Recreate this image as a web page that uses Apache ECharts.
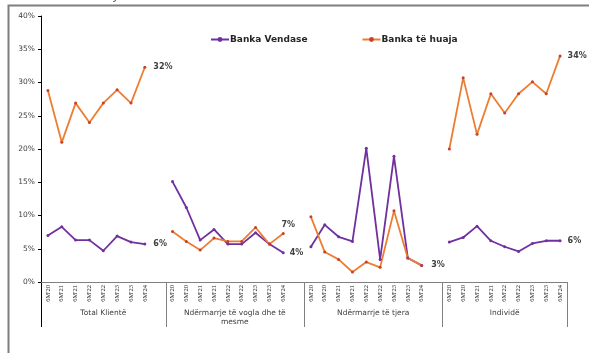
<!DOCTYPE html>
<html>
<head>
<meta charset="utf-8">
<script src="https://cdn.jsdelivr.net/npm/echarts@6/dist/echarts.min.js"></script>
<style>
  html, body { margin: 0; padding: 0; background: #fff; }
  #main { width: 589px; height: 353px; }
</style>
</head>
<body>
<div id="main"></div>
<script>
// categories
var groupNames = ["Total Klientë", "Ndërmarrje të vogla dhe të\nmesme", "Ndërmarrje të tjera", "Individë"];
var periodsTotal = ["6M'20", "6M'21", "6M'21", "6M'22", "6M'22", "6M'23", "6M'23", "6M'24"];
var periodsSegment = ["6M'20", "6M'20", "6M'21", "6M'21", "6M'22", "6M'22", "6M'23", "6M'23", "6M'24"];

// Banka Vendase (%)
var vendaseTotal = [7.0, 8.3, 6.3, 6.3, 4.7, 6.9, 6.0, 5.7];
var vendaseSme = [15.1, 11.2, 6.3, 7.9, 5.7, 5.7, 7.4, 5.7, 4.4];
var vendaseOther = [5.3, 8.6, 6.8, 6.1, 20.1, 3.4, 18.9, 3.6, 2.5];
var vendaseIndiv = [6.0, 6.7, 8.4, 6.2, 5.3, 4.6, 5.8, 6.2, 6.2];

// Banka të huaja (%)
var huajaTotal = [28.8, 21.0, 26.9, 24.0, 26.9, 28.9, 26.9, 32.3];
var huajaSme = [7.6, 6.1, 4.8, 6.6, 6.1, 6.1, 8.2, 5.7, 7.3];
var huajaOther = [9.8, 4.5, 3.4, 1.5, 3.0, 2.2, 10.7, 3.6, 2.5];
var huajaIndiv = [20.0, 30.7, 22.2, 28.3, 25.4, 28.3, 30.1, 28.3, 34.0];

// y axis ticks
var yMin = 0, yMax = 40, yStep = 5;

var groups = [
  { periods: periodsTotal, vendase: vendaseTotal, huaja: huajaTotal },
  { periods: periodsSegment, vendase: vendaseSme, huaja: huajaSme },
  { periods: periodsSegment, vendase: vendaseOther, huaja: huajaOther },
  { periods: periodsSegment, vendase: vendaseIndiv, huaja: huajaIndiv }
];

// end-of-group label placement (per group: [vendase, huaja])
var endLabelPos = [
  [{ position: "right", distance: 7 }, { position: "right", distance: 7 }],
  [{ position: "right", distance: 5 }, { position: "top", distance: 3, offset: [5, 0] }],
  [{ position: "right", distance: 8 }, null],
  [{ position: "right", distance: 6 }, { position: "right", distance: 6 }]
];

var fontFamily = "DejaVu Sans";
var purple = "#7030a0";
var orange = "#ed7d31";

var categories = [], labels = [], vendData = [], huajaData = [], groupRanges = [];

function point(v, isLast, pos) {
  if (!isLast || !pos) return v;
  return {
    value: v,
    label: Object.assign({
      show: true,
      formatter: Math.round(v) + "%",
      fontFamily: fontFamily,
      fontSize: 8,
      fontWeight: "bold",
      color: "#404040"
    }, pos)
  };
}

groups.forEach(function (g, gi) {
  var start = categories.length;
  var last = g.periods.length - 1;
  g.periods.forEach(function (p, i) {
    categories.push(gi + "-" + i);
    labels.push(p);
    vendData.push(point(g.vendase[i], i === last, endLabelPos[gi][0]));
    huajaData.push(point(g.huaja[i], i === last, endLabelPos[gi][1]));
  });
  if (gi < groups.length - 1) {
    categories.push(gi + "-gap");
    labels.push("");
    vendData.push(null);
    huajaData.push(null);
  }
  groupRanges.push([start, categories.length - 1]);
});

var chart = echarts.init(document.getElementById("main"));

chart.setOption({
  animation: false,
  backgroundColor: "#fff",
  legend: {
    left: 205,
    top: 30,
    itemWidth: 18,
    itemHeight: 6,
    itemGap: 54,
    textStyle: { fontFamily: fontFamily, fontSize: 9, fontWeight: "bold", color: "#262626", padding: [0, 0, 0, -4] },
    data: ["Banka Vendase", "Banka të huaja"]
  },
  grid: {
    left: 41,
    right: 22,
    top: 16,
    bottom: 71,
    containLabel: false,
    outerBoundsMode: "none"
  },
  xAxis: {
    type: "category",
    data: categories,
    boundaryGap: true,
    axisLine: { lineStyle: { color: "#808080", width: 1 } },
    axisTick: { show: false },
    axisLabel: {
      interval: 0,
      rotate: 90,
      margin: 3,
      fontFamily: "Liberation Sans Narrow",
      fontSize: 6.5,
      color: "#262626",
      formatter: function (v, i) { return labels[i]; }
    },
    splitLine: { show: false }
  },
  yAxis: {
    type: "value",
    min: yMin,
    max: yMax,
    interval: yStep,
    axisLine: { show: true, lineStyle: { color: "#000", width: 1 } },
    axisTick: { show: true, length: 3, lineStyle: { color: "#000" } },
    axisLabel: {
      formatter: "{value}%",
      fontFamily: fontFamily,
      fontSize: 7.5,
      color: "#404040",
      margin: 6
    },
    splitLine: { show: false }
  },
  series: [
    {
      name: "Banka Vendase",
      type: "line",
      data: vendData,
      symbol: "circle",
      symbolSize: 3,
      lineStyle: { color: purple, width: 1.8 },
      itemStyle: { color: purple },
      connectNulls: false
    },
    {
      name: "Banka të huaja",
      type: "line",
      data: huajaData,
      symbol: "circle",
      symbolSize: 3,
      lineStyle: { color: orange, width: 1.8 },
      itemStyle: { color: "#c8402a" },
      connectNulls: false
    }
  ]
});

// group separators and group names below the axis
var px = function (i) { return chart.convertToPixel({ xAxisIndex: 0 }, categories[i]); };
var bw = px(1) - px(0);
var y0 = chart.convertToPixel({ yAxisIndex: 0 }, yMin);
var graphics = [
  {
    type: "rect",
    silent: true,
    shape: { x: 8.5, y: 5.5, width: 700, height: 500 },
    style: { fill: "none", stroke: "#7f7f7f", lineWidth: 2 }
  },
  {
    type: "text",
    silent: true,
    x: 112,
    y: -11,
    style: { text: "y", fill: "#2e75b6", fontFamily: fontFamily, fontSize: 13 }
  }
];
groupRanges.forEach(function (r, gi) {
  var left = px(r[0]) - bw / 2;
  var right = px(r[1]) + bw / 2;
  if (gi === 0) {
    graphics.push({ type: "line", silent: true, shape: { x1: Math.round(left) + 0.5, y1: y0, x2: Math.round(left) + 0.5, y2: y0 + 45 }, style: { stroke: "#000", lineWidth: 1 } });
  }
  graphics.push({ type: "line", silent: true, shape: { x1: Math.round(right) + 0.5, y1: y0, x2: Math.round(right) + 0.5, y2: y0 + 45 }, style: { stroke: "#808080", lineWidth: 1 } });
  graphics.push({
    type: "text",
    silent: true,
    x: (left + right) / 2,
    y: y0 + 27,
    style: {
      text: groupNames[gi],
      fill: "#404040",
      fontFamily: fontFamily,
      fontSize: 7.5,
      lineHeight: 9,
      align: "center",
      verticalAlign: "top"
    }
  });
});
chart.setOption({ graphic: graphics });
</script>
</body>
</html>
